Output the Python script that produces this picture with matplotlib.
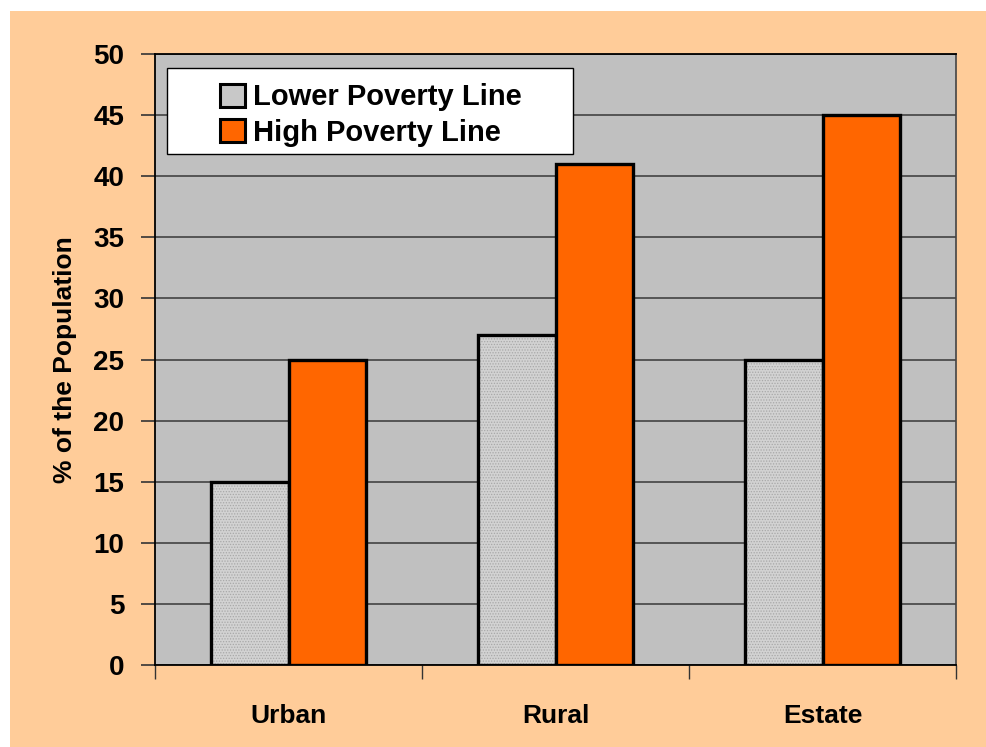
import matplotlib
matplotlib.use("Agg")
import matplotlib.pyplot as plt
import numpy as np
from matplotlib.patches import Rectangle, Patch

categories = ["Urban", "Rural", "Estate"]
lower_line = [15, 27, 25]
high_line = [25, 41, 45]
series_names = ["Lower Poverty Line", "High Poverty Line"]
y_ticks = [0, 5, 10, 15, 20, 25, 30, 35, 40, 45, 50]

plt.rcParams["font.family"] = ["Liberation Sans", "DejaVu Sans"]
plt.rcParams["hatch.linewidth"] = 0.6

fig = plt.figure(figsize=(9.86, 7.47), dpi=100)
fig.patch.set_facecolor("white")
fig.patches.append(Rectangle((10 / 986, 0), 1, 1 - 11 / 747, transform=fig.transFigure,
                             facecolor="#ffcc99", edgecolor="none", zorder=-10))

ax = fig.add_axes([155 / 986, 1 - 665 / 747, 801 / 986, 611 / 747])
ax.set_facecolor("#c0c0c0")

x = np.arange(len(categories))
w = 0.29
# dithered fill for the lower line, then outlines on top
ax.bar(x - w / 2, lower_line, w, color="#d2d2d2", edgecolor="#a8a8a8", linewidth=0,
       hatch="......", zorder=3)
b1 = ax.bar(x - w / 2, lower_line, w, fill=False, edgecolor="black", linewidth=2.4, zorder=4)
b2 = ax.bar(x + w / 2, high_line, w, color="#ff6600", edgecolor="black", linewidth=2.4,
            zorder=4)

ax.set_xlim(-0.5, len(categories) - 0.5)
ax.set_ylim(0, 50)
ax.set_yticks(y_ticks)
ax.yaxis.grid(True, color="#555555", linewidth=1.4, zorder=1)
ax.set_axisbelow(True)

ax.set_xticks(x)
ax.set_xticklabels(categories, fontsize=19, fontweight="bold")
ax.tick_params(axis="x", length=0, pad=28)
ax.set_xticks(np.arange(len(categories) + 1) - 0.5, minor=True)
ax.tick_params(axis="x", which="minor", length=10, width=1, color="#333333", direction="out")
ax.tick_params(axis="y", length=10, width=1.2, color="#333333", direction="out", pad=12,
               labelsize=20)
for lab in ax.get_yticklabels():
    lab.set_fontweight("bold")

for side in ["left", "bottom", "top"]:
    ax.spines[side].set_color("black")
    ax.spines[side].set_linewidth(1.3)
ax.spines["right"].set_color("#444444")
ax.spines["right"].set_linewidth(1.2)

ax.set_ylabel("% of the Population", fontsize=19, fontweight="bold", labelpad=12)

# legend box
ax.add_patch(Rectangle((0.015, 0.836), 0.507, 0.141, transform=ax.transAxes,
                       facecolor="white", edgecolor="black", linewidth=1.0, zorder=5))
handles = [Patch(facecolor="#c8c8c8", edgecolor="black", linewidth=2.2),
           Patch(facecolor="#ff6600", edgecolor="black", linewidth=2.2)]
leg = ax.legend(handles, series_names, loc="center left", bbox_to_anchor=(0.081, 0.900),
                borderaxespad=0, borderpad=0, frameon=False,
                prop={"size": 21, "weight": "bold"}, handlelength=0.85, handleheight=0.85,
                handletextpad=0.3, labelspacing=0.26)
leg.set_zorder(6)

fig.savefig("out.png", dpi=100, facecolor=fig.get_facecolor())
